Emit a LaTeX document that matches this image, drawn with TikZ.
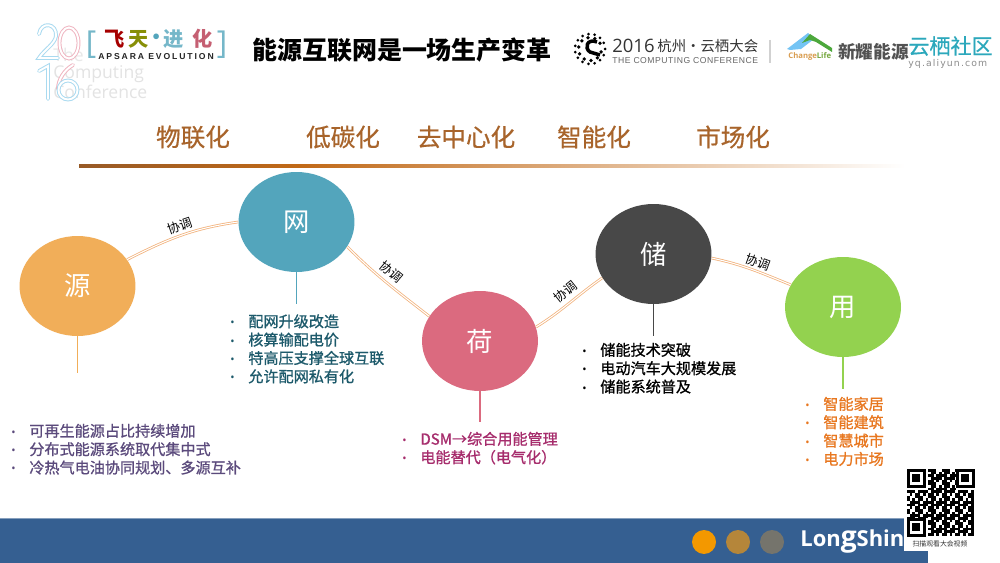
\documentclass[tikz,border=0pt]{standalone}
\usepackage{fontspec}
\usepackage{xcolor}
\usetikzlibrary{arrows.meta,calc,positioning,shapes.geometric}
\setmainfont{Carlito}
\newfontfamily\cjk{Noto Sans CJK SC}
\newfontfamily\cjkmid[FakeBold=0.6]{Noto Sans CJK SC}
\newfontfamily\cjklist[FakeBold=1]{Noto Sans CJK SC}
\newfontfamily\logotrack[LetterSpace=22]{Liberation Sans}
\newfontfamily\conftrack[LetterSpace=6]{Liberation Sans}
\newfontfamily\confsans{Open Sans}
\newfontfamily\yqmono[LetterSpace=12]{DejaVu Sans}
\definecolor{ink}{HTML}{000000}
\definecolor{srcfill}{HTML}{F1AE59}
\definecolor{netfill}{HTML}{53A5BC}
\definecolor{loadfill}{HTML}{DB6A7F}
\definecolor{storfill}{HTML}{484848}
\definecolor{usefill}{HTML}{93D24F}
\definecolor{srctext}{HTML}{5B4A7C}
\definecolor{nettext}{HTML}{1D5A6B}
\definecolor{loadtext}{HTML}{A62C6C}
\definecolor{usetext}{HTML}{E8771F}
\definecolor{brown}{HTML}{A8642B}
\definecolor{link}{HTML}{F2B27C}
\definecolor{band}{HTML}{355F91}
\definecolor{paleblue}{HTML}{A9DAF0}
\definecolor{palepink}{HTML}{EFB4C0}
\definecolor{cloudteal}{HTML}{2CA8BC}
\definecolor{houseblue}{HTML}{74C4F4}
\definecolor{housegreen}{HTML}{4CA83C}
\definecolor{dotorange}{HTML}{F39800}
\definecolor{dotgold}{HTML}{B5863A}
\definecolor{dotgray}{HTML}{75746C}
\newcommand{\li}[1]{\makebox[0.36cm][l]{\raisebox{0.2pt}{\confsans\fontsize{6.5}{6.5}\selectfont •}}#1}
\tikzset{
  keybox/.style={ellipse, minimum width=2.32cm, minimum height=2cm, inner sep=0pt, text=white,
    font=\cjk\fontsize{15}{15}\selectfont},
  trendlabel/.style={inner sep=0pt, text=brown, font=\cjkmid\fontsize{14}{14}\selectfont},
  linkline/.style={draw=link, line width=0.45pt, double=white, double distance=0.6pt},
  linklabel/.style={inner sep=2pt, text=ink, sloped, above, font=\cjk\fontsize{7.2}{7.2}\selectfont},
  stem/.style={line width=0.65pt},
  listbox/.style={anchor=north west, inner sep=0pt, align=left, font=\cjklist\fontsize{8.6}{10.45}\selectfont},
  logodigit/.style={draw=#1, line width=0.55pt, double=white, double distance=1.1pt, line cap=round},
  logochar/.style={inner sep=0pt, font=\cjk\bfseries\fontsize{11.5}{11.5}\selectfont},
  dotnode/.style={circle, minimum size=0.48cm, inner sep=0pt},
  logodot/.style={circle, fill=black, inner sep=0pt, minimum size=#1}
}
\begin{document}
\begin{tikzpicture}[x=0.02cm,y=-0.02cm]
  \useasboundingbox (0,0) rectangle (1000,563);
  \fill[white] (0,0) rectangle (1000,563);

  \node[inner sep=0pt, anchor=east, text=black!9, font=\confsans\fontsize{10}{10}\selectfont] (logothe) at (84,55) {The};
  \node[inner sep=0pt, anchor=west, text=black!11, font=\confsans\fontsize{10}{10}\selectfont] (logocomp) at (53,74) {Computing};
  \node[inner sep=0pt, anchor=west, text=black!11, font=\confsans\fontsize{10}{10}\selectfont] (logoconf) at (53,92) {Conference};
  \draw[logodigit=paleblue] (39,34) .. controls (41,21) and (57,23) .. (56,36) .. controls (55,44) and (44,50) .. (39,58) -- (58,58);
  \draw[logodigit=palepink] (69,43) ellipse (9.5 and 15.5);
  \draw[logodigit=paleblue] (39,71) -- (48,66) -- (48,99);
  \draw[logodigit=palepink] (73,65) .. controls (64,70) and (58,80) .. (58,89);
  \draw[logodigit=paleblue] (68,90) circle (9.5 and 9.5);

  \node[inner sep=0pt, text=netfill!80, font=\confsans\fontsize{18}{18}\selectfont] (brleft) at (91,45) {[};
  \node[inner sep=0pt, text=netfill!80, font=\confsans\fontsize{18}{18}\selectfont] (brright) at (222,45) {]};
  \node[logochar, text=red!65!black] (fei) at (115,39) {飞};
  \node[logochar, text=olive!85!green] (tian) at (139,39) {天};
  \node[logochar, text=netfill] (logosep) at (157,39) {·};
  \node[logochar, text=netfill!80] (jin) at (174,39) {进};
  \node[logochar, text=loadfill!90!black] (hua) at (203,39) {化};
  \node[inner sep=0pt, text=black!85, font=\logotrack\bfseries\fontsize{4.9}{4.9}\selectfont] (apsara) at (156,57) {APSARA EVOLUTION};

  \node[inner sep=0pt, text=ink, font=\cjk\bfseries\fontsize{14.2}{14.2}\selectfont] (title) at (402,50) {能源互联网是一场生产变革};

  \foreach \a in {0,24,...,336}{
    \node[logodot=0.06cm] (ringa\a) at ($(590,49)+(\a:15)$) {};
  }
  \foreach \a in {15,50,...,335}{
    \node[logodot=0.075cm] (ringb\a) at ($(590,49)+(\a:11.5)$) {};
  }
  \draw[line width=2pt, black] (597,42) .. controls (587,38) and (584,48) .. (590,52) -- (600,55);

  \node[inner sep=0pt, anchor=west, text=black!80, font=\confsans\fontsize{10.5}{10.5}\selectfont] (conf2016) at (612,46) {2016};
  \node[inner sep=0pt, anchor=west, text=black!80, font=\cjk\fontsize{8.2}{8.2}\selectfont] (confname) at (657,46) {杭州·云栖大会};
  \node[inner sep=0pt, anchor=west, text=black!60, font=\conftrack\fontsize{4.9}{4.9}\selectfont] (confen) at (612,61) {THE COMPUTING CONFERENCE};
  \draw[black!18, line width=0.6pt] (770,40) -- (770,63);

  \fill[houseblue] (787,49) -- (808,33) -- (814,39) -- (801,49) -- (790,50) -- cycle;
  \fill[housegreen] (802,43) -- (810,34) -- (832,48) -- (832,52) -- (816,42) -- (810,40) -- cycle;
  \node[inner sep=0pt, anchor=west, text=srcfill!90!black, font=\confsans\bfseries\fontsize{4.4}{4.4}\selectfont] (change) at (788,56) {Change};
  \node[inner sep=0pt, anchor=west, text=usefill!80!black, font=\confsans\bfseries\fontsize{4.4}{4.4}\selectfont] (life) at (816.5,56) {Life};
  \node[inner sep=0pt, anchor=west, text=black!68, font=\cjk\bfseries\fontsize{10}{10}\selectfont] (xinyao) at (838,52) {新耀能源};
  \node[inner sep=0pt, anchor=west, fill=white, text=cloudteal, font=\cjkmid\fontsize{12}{12}\selectfont] (yunqi) at (908,46) {云栖社区};
  \node[inner sep=0pt, anchor=west, text=black!45, font=\yqmono\fontsize{5.3}{5.3}\selectfont] (yqurl) at (908,64) {yq.aliyun.com};

  \node[trendlabel] (trend1) at (193,137) {物联化};
  \node[trendlabel] (trend2) at (343,137) {低碳化};
  \node[trendlabel] (trend3) at (466,137) {去中心化};
  \node[trendlabel] (trend4) at (594,137) {智能化};
  \node[trendlabel] (trend5) at (733,137) {市场化};
  \shade[left color=brown!90!black, right color=brown!90!black!60!orange] (79,164.5) rectangle (300,167.5);
  \shade[left color=brown!90!black!60!orange, right color=white] (300,164.5) rectangle (905,167.5);

  \node[keybox, fill=srcfill] (src) at (77.5,286) {源};
  \node[keybox, fill=netfill] (net) at (296.5,222) {网};
  \node[keybox, fill=loadfill] (load) at (480,341) {荷};
  \node[keybox, fill=storfill] (stor) at (653.5,254) {储};
  \node[keybox, fill=usefill] (use) at (843,307) {用};

  \draw[linkline] (src.28) to[out=27,in=188] node[linklabel, pos=0.52] {协调} (net.180);
  \draw[linkline] (net.-26) to[out=-45,in=142] node[linklabel, pos=0.46, inner sep=3pt] {协调} (load.154);
  \draw[linkline] (load.14) to[out=32,in=215] node[linklabel, pos=0.55, inner sep=3pt] {协调} (stor.205);
  \draw[linkline] (stor.-4) to[out=-12,in=158] node[linklabel, pos=0.55, inner sep=1.5pt] {协调} (use.157);

  \coordinate[below=0.74cm of src] (srcend);
  \coordinate[below=0.64cm of net] (netend);
  \coordinate[below=0.62cm of load] (loadend);
  \coordinate[below=0.64cm of stor] (storend);
  \coordinate[below=0.64cm of use] (useend);
  \draw[stem, draw=srcfill] (src) -- (srcend);
  \draw[stem, draw=netfill] (net) -- (netend);
  \draw[stem, draw=loadfill] (load) -- (loadend);
  \draw[stem, draw=storfill] (stor) -- (storend);
  \draw[stem, draw=usefill] (use) -- (useend);

  \node[listbox, text=srctext] (srclist) at (11,423.5)
    {\li{可再生能源占比持续增加}\\\li{分布式能源系统取代集中式}\\\li{冷热气电油协同规划、多源互补}};
  \node[listbox, text=nettext] (netlist) at (230,314)
    {\li{配网升级改造}\\\li{核算输配电价}\\\li{特高压支撑全球互联}\\\li{允许配网私有化}};
  \node[listbox, text=loadtext] (loadlist) at (402,431.5)
    {\li{DSM→综合用能管理}\\\li{电能替代（电气化）}};
  \node[listbox, text=ink] (storlist) at (582,342.5)
    {\li{储能技术突破}\\\li{电动汽车大规模发展}\\\li{储能系统普及}};
  \node[listbox, text=usetext] (uselist) at (805,396.5)
    {\li{智能家居}\\\li{智能建筑}\\\li{智慧城市}\\\li{电力市场}};

  \fill[band] (0,518) rectangle (928,563);
  \draw[band!60!white, line width=0.5pt] (0,518) -- (928,518);
  \node[dotnode, fill=dotorange] (dot1) at (704,542) {};
  \node[dotnode, fill=dotgold] (dot2) at (738,542) {};
  \node[dotnode, fill=dotgray] (dot3) at (772,542) {};
  \node[inner sep=0pt, anchor=west, text=white, font=\confsans\bfseries\fontsize{12.5}{12.5}\selectfont] (brand) at (800,542) {Lon{\fontsize{16}{16}\selectfont g}Shine};

  \fill[white] (904,467) rectangle (976,551);
  \foreach \i in {0,...,24}{
    \foreach \j in {0,...,24}{
      \pgfmathparse{int(mod(\i*\i*3+\j*\j*5+\i*\j*7+\i+2*\j,5)<3 ? 1 : 0)}
      \ifnum\pgfmathresult=1
        \fill[black] ({907+2.66*\i},{469+2.66*\j}) rectangle ++(2.66,2.66);
      \fi
    }
  }
  \foreach \qx/\qy in {907/469,955.9/469,907/517.9}{
    \fill[white] (\qx,\qy) rectangle ++(21,21);
    \fill[black] (\qx,\qy) rectangle ++(18.6,18.6);
    \fill[white] ({\qx+2.66},{\qy+2.66}) rectangle ++(13.3,13.3);
    \fill[black] ({\qx+5.3},{\qy+5.3}) rectangle ++(8,8);
  }
  \node[inner sep=0pt, text=black!80, font=\cjk\fontsize{3.9}{3.9}\selectfont] (qrcaption) at (940,544) {扫描观看大会视频};
\end{tikzpicture}
\end{document}
